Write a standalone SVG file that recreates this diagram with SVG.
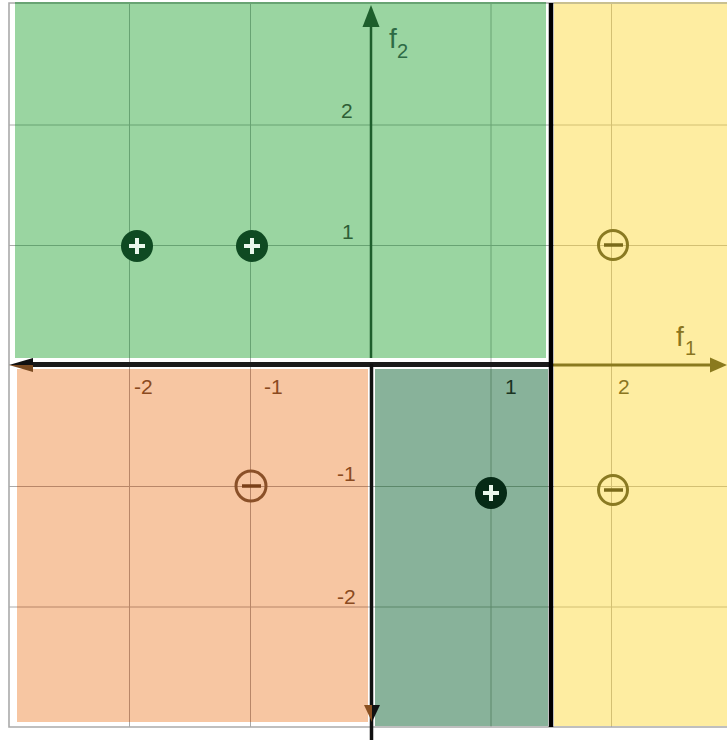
<svg xmlns="http://www.w3.org/2000/svg" xmlns:xlink="http://www.w3.org/1999/xlink" width="727" height="740" viewBox="0 0 727 740">
<style>
text{font-family:"Liberation Sans",Arial,sans-serif;font-size:21px}
.gl line{stroke-width:2}
.f{font-size:28px}
.sub{font-size:20px}
</style>
<defs>
<g id="grid">
<line x1="129.5" y1="3" x2="129.5" y2="727"/>
<line x1="250.5" y1="3" x2="250.5" y2="727"/>
<line x1="491" y1="3" x2="491" y2="727"/>
<line x1="611.5" y1="3" x2="611.5" y2="727"/>
<line x1="9" y1="125" x2="727" y2="125"/>
<line x1="9" y1="245.5" x2="727" y2="245.5"/>
<line x1="9" y1="486.5" x2="727" y2="486.5"/>
<line x1="9" y1="607" x2="727" y2="607"/>
</g>
<clipPath id="cG"><rect x="15" y="3" width="531" height="355"/></clipPath>
<clipPath id="cO"><rect x="17" y="369" width="351" height="353"/></clipPath>
<clipPath id="cD"><rect x="375" y="369" width="173" height="357"/></clipPath>
<clipPath id="cY"><rect x="554" y="3" width="173" height="723"/></clipPath>
</defs>
<rect width="727" height="740" fill="#fff"/>
<g id="frame" fill="none" stroke="#aaaaaa" stroke-width="1.6">
<polyline points="727,3 9,3 9,727 727,727"/>
</g>
<g class="gl"><use xlink:href="#grid" stroke="#aaaaaa"/></g>
<g id="regions">
<rect id="region-green" x="15" y="3" width="531" height="355" fill="#9AD5A1"/>
<rect id="region-orange" x="17" y="369" width="351" height="353" fill="#F7C6A2"/>
<rect id="region-darkgreen" x="375" y="369" width="173" height="357" fill="#88B29A"/>
<rect id="region-yellow" x="554" y="3" width="173" height="723" fill="#FEEDA1"/>
</g>
<g class="gl">
<use xlink:href="#grid" stroke="#68A373" clip-path="url(#cG)"/>
<use xlink:href="#grid" stroke="#B88668" clip-path="url(#cO)"/>
<use xlink:href="#grid" stroke="#5C886A" clip-path="url(#cD)"/>
<use xlink:href="#grid" stroke="#D3C073" clip-path="url(#cY)"/>
<line x1="15" y1="3" x2="546" y2="3" stroke="#68A373"/>
<line x1="554" y1="3" x2="727" y2="3" stroke="#C9C090"/>
</g>
<g id="connectors">
<line id="f2-axis" x1="371" y1="358" x2="371" y2="22" stroke="#1E5E2C" stroke-width="2.5"/>
<polygon points="371,5 362.5,27 379.5,27" fill="#1E5E2C"/>
<line id="f1-axis" x1="551" y1="365" x2="712" y2="365" stroke="#8A7A1E" stroke-width="3"/>
<polygon points="727,365 710,357.5 710,372.5" fill="#8A7A1E"/>
<line id="boundary-h" x1="22" y1="364.5" x2="551" y2="364.5" stroke="#1a1a1a" stroke-width="5"/>
<polygon points="9,365 33,358 33,365" fill="#111"/>
<polygon points="9,365 33,365 33,372" fill="#7a4a20"/>
<line id="boundary-v" x1="551" y1="3" x2="551" y2="727" stroke="#000" stroke-width="4.5"/>
<line id="boundary-lower" x1="371.5" y1="364" x2="371.5" y2="740" stroke="#111" stroke-width="3.5"/>
<polygon points="372,722 364,705 372,705" fill="#8a5020"/>
<polygon points="372,722 380,705 372,705" fill="#111"/>
</g>
<g id="labels">
<text x="389" y="48" class="f" fill="#2E6A45">f</text>
<text x="397" y="58" class="sub" fill="#2E6A45">2</text>
<text x="676" y="346" class="f" fill="#8A7520">f</text>
<text x="685" y="355" class="sub" fill="#8A7520">1</text>
<text x="341" y="118" fill="#2E5E35">2</text>
<text x="342" y="239" fill="#2E5E35">1</text>
<text x="134" y="394" fill="#8A4A20">-2</text>
<text x="264" y="394" fill="#8A4A20">-1</text>
<text x="505" y="394" fill="#1A3322">1</text>
<text x="618" y="394" fill="#8A7520">2</text>
<text x="337" y="481" fill="#8A4A20">-1</text>
<text x="337" y="604" fill="#8A4A20">-2</text>
</g>
<g id="p1"><circle cx="137" cy="246" r="16" fill="#0F4A22"/><path d="M129 246h16M137 238v16" stroke="#EAF7EC" stroke-width="4"/></g>
<g id="p2"><circle cx="252" cy="246" r="16" fill="#0F4A22"/><path d="M244 246h16M252 238v16" stroke="#EAF7EC" stroke-width="4"/></g>
<g id="p3"><circle cx="491" cy="493" r="16" fill="#062A16"/><path d="M483 493h16M491 485v16" stroke="#EAF7EC" stroke-width="4"/></g>
<g id="m1"><circle cx="613" cy="245" r="14.5" fill="none" stroke="#8A7A22" stroke-width="3"/><path d="M604 245h19" stroke="#7A6A1A" stroke-width="3.5"/></g>
<g id="m2"><circle cx="251" cy="486" r="15" fill="none" stroke="#8A5028" stroke-width="3"/><path d="M242 486h19" stroke="#7A4018" stroke-width="3.5"/></g>
<g id="m3"><circle cx="613" cy="490" r="14.5" fill="none" stroke="#8A7A22" stroke-width="3"/><path d="M604 490h19" stroke="#7A6A1A" stroke-width="3.5"/></g>
</svg>
